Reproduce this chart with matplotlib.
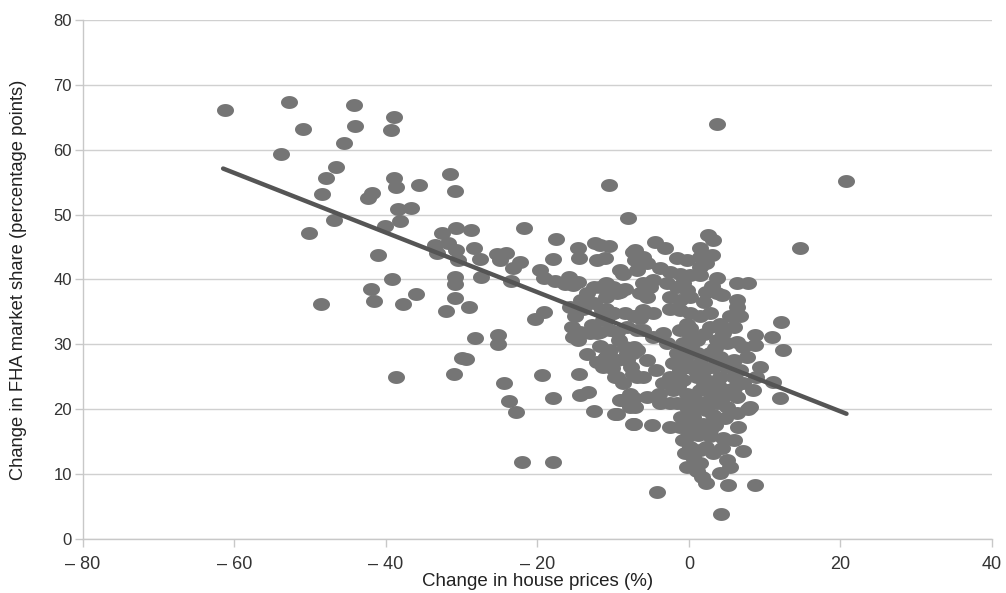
"""FHA market share change vs house price change scatter"""

import numpy as np
import matplotlib
matplotlib.use('Agg')
import matplotlib.pyplot as plt
from matplotlib.path import Path
from matplotlib.markers import MarkerStyle

# change in house prices (%) -- outlying western / high decline areas
house_left = [
    -61.3, -52.8, -51.0, -53.8, -44.2, -44.1, -45.5, -39.0, -39.4, -46.6,
    -47.9, -48.4, -39.0, -38.7, -35.7, -31.6, -30.9, -41.8, -42.4, -38.4,
    -36.7, -38.2, -40.1, -46.9, -50.2, -32.6, -30.7, -33.5, -31.8, -33.3,
    -41.1, -39.2, -42.0, -41.6, -37.8, -36.0, -48.6, -32.1, -30.9, -30.9,
    -30.9, -38.7, -31.0, -30.0]
fha_left = [
    66.1, 67.4, 63.2, 59.4, 66.9, 63.7, 61.0, 65.1, 63.0, 57.4,
    55.7, 53.1, 55.7, 54.2, 54.5, 56.2, 53.6, 53.3, 52.5, 50.8,
    51.0, 49.0, 48.3, 49.2, 47.1, 47.1, 47.9, 45.3, 45.6, 44.1,
    43.8, 40.1, 38.5, 36.7, 36.2, 37.8, 36.2, 35.1, 40.4, 39.3,
    37.1, 24.9, 25.4, 27.9]

house_mid = [
    -10.6, -8.0, -21.8, -28.8, -17.5, -28.4, -27.6, -30.7, -30.5, -25.4,
    -24.1, -24.9, -22.3, -23.2, -17.9, -19.7, -27.5, -23.5, -14.6, -12.4,
    -10.6, -14.5, -12.2, -11.1, -9.1, -7.4, -19.2, -17.7, -15.9, -15.3,
    -16.4, -14.6, -13.5, -12.6, -10.9, -10.0, -8.4, -14.3, -12.6, -14.0,
    -10.9, -9.5, -15.7, -15.0, -11.5, -10.9, -10.0, -10.4, -11.7, -9.5,
    -15.5, -15.3, -14.6, -14.4, -12.8, -12.2, -13.1, -29.1, -20.3, -19.2,
    -28.3, -25.2, -25.2, -29.4, -24.4, -23.7, -22.8, -19.4, -18.0, -14.5,
    -14.4, -13.3, -12.5, -12.2, -10.9, -11.3, -9.5, -8.9, -7.8, -9.5,
    -7.4, -7.1, -8.4, -7.4, -7.6, -8.2, -6.9, -6.9, -6.9, -22.0,
    -18.0, -9.2, -11.8, -8.5, -13.5, -10.2]
fha_mid = [
    54.5, 49.4, 48.0, 47.6, 46.3, 44.9, 43.2, 44.5, 43.0, 44.0,
    44.1, 43.0, 42.7, 41.7, 43.1, 41.4, 40.4, 39.8, 44.8, 45.6,
    45.1, 43.3, 43.0, 43.3, 41.4, 44.3, 40.2, 39.8, 40.4, 39.1,
    39.3, 39.6, 37.9, 38.9, 39.4, 38.9, 38.6, 36.8, 36.3, 35.5,
    37.3, 37.9, 35.8, 34.3, 35.3, 33.7, 34.8, 32.2, 31.9, 31.9,
    32.7, 31.2, 30.7, 31.9, 33.0, 31.7, 31.7, 35.8, 33.9, 35.0,
    31.0, 31.4, 30.0, 27.7, 24.1, 21.2, 19.6, 25.3, 21.7, 25.5,
    22.2, 22.7, 19.8, 27.3, 28.1, 26.5, 25.0, 21.4, 22.4, 19.3,
    17.8, 20.4, 29.6, 28.6, 26.5, 27.6, 25.0, 34.3, 32.2, 11.8,
    11.9, 30.7, 29.8, 34.8, 28.5, 26.4]

house_upper = [
    14.7, 2.5, 3.2, 1.5, 3.0, 1.5, -4.5, -3.2, -7.1, -6.0,
    -5.6, -11.7, -1.6, -0.3, 1.5, 2.3, -3.8, -2.5, -1.2, 0.1,
    1.5, 3.7, 6.3, 7.8, -8.7, -7.1, -6.9, -6.0, -5.1, -4.7,
    -2.9, -1.6, -0.3, 0.1, 2.3, 3.7, 4.3, 6.3, -11.7, -10.4,
    -9.1, -6.5, -5.6, -2.5, -1.2, -6.0, -4.7, -6.5, -2.5, -1.2,
    0.1, 1.5, -0.3, 2.8, 4.1, 5.4, 5.9, 2.8, 6.3, 6.7,
    12.2, 8.7, 10.9, 8.7, 12.4, -10.9, -10.0, -11.3, -7.3, -8.2,
    -6.0, -4.7, -3.4, -1.2, 0.1, 1.0, -0.8, 3.7, 5.0, 6.3,
    7.2, -2.9, -1.6, -7.3, 20.7, 3.7, 0.2, 2.0, 4.5, 2.0,
    3.0, -0.8]
fha_upper = [
    44.9, 46.8, 46.1, 44.8, 43.8, 43.5, 45.8, 44.9, 44.5, 43.5,
    42.5, 45.3, 43.3, 43.0, 42.0, 42.5, 41.7, 41.2, 40.9, 40.7,
    40.7, 40.2, 39.4, 39.4, 40.9, 43.0, 41.4, 39.4, 38.9, 39.9,
    39.4, 38.9, 38.4, 37.3, 38.1, 37.9, 37.6, 36.8, 38.9, 38.6,
    38.1, 37.9, 37.3, 37.3, 36.8, 35.3, 34.8, 34.0, 35.5, 35.3,
    34.8, 34.3, 33.2, 34.8, 33.2, 34.3, 32.7, 32.7, 35.8, 34.3,
    33.5, 31.4, 31.2, 29.9, 29.1, 35.5, 34.8, 33.7, 34.3, 32.7,
    32.2, 31.2, 31.7, 32.2, 31.4, 30.7, 30.2, 30.7, 30.2, 30.4,
    29.6, 30.2, 28.6, 29.6, 55.2, 63.9, 32.5, 31.6, 31.8, 36.5,
    39.0, 39.5]

house_low = [
    12.0, 11.1, 7.6, 9.4, 8.9, 5.9, 6.7, 7.2, 8.5, 7.8,
    6.3, 6.5, 7.2, 8.7, 5.2, 4.1, 5.4, 5.0, 1.7, 2.3,
    -0.2, 4.2, -4.2, 4.5, 5.9, 2.8, 2.3, 3.2, 1.5, 0.6,
    1.5, 0.1, -0.1, 0.1, 0.6, 1.9, 2.8, 3.2, -0.3, 1.0,
    2.3, -0.8, 1.0, 2.8, 4.1, -2.1, -0.3, 1.5, 3.2, 5.0,
    -2.5, -0.8, 1.0, 2.3, 4.1, 5.9, -2.1, -0.3, 1.5, 3.2,
    5.0, 6.3, -1.6, 0.1, 1.5, 3.7, 5.0, -10.9, -9.5, -10.4,
    -8.2, -6.9, -5.6, -7.4, -6.0, -4.3, -3.4, -9.8, -8.7, -9.1,
    -7.3, -7.8, -5.6, -4.0, -9.8, -7.3, -4.9, -2.5, -3.8, -2.5,
    -1.2, -0.8, -0.5, 8.1, 0.8, 2.0, 3.8, 0.5, 2.5, 4.4,
    -1.0, 1.2, 3.5, -1.4, -1.2, 0.3, 3.5, 4.8, 4.3, 1.0,
    -0.5, 6.0, 2.0]
fha_low = [
    21.7, 24.2, 28.1, 26.5, 25.0, 27.6, 26.0, 24.0, 23.0, 20.1,
    19.4, 17.3, 13.5, 8.3, 8.3, 10.1, 11.1, 12.2, 9.6, 8.6,
    11.1, 3.9, 7.3, 15.5, 15.3, 15.8, 14.2, 13.2, 13.7, 12.7,
    11.7, 14.2, 15.8, 17.3, 18.8, 17.8, 16.8, 19.1, 20.4, 20.4,
    19.9, 29.1, 28.6, 28.6, 28.1, 27.1, 26.5, 27.1, 26.5, 26.5,
    25.0, 24.5, 25.0, 24.5, 25.0, 25.0, 23.0, 22.4, 23.0, 22.4,
    23.0, 21.9, 20.9, 21.4, 20.9, 20.9, 20.4, 28.1, 27.6, 29.1,
    28.6, 29.1, 27.6, 25.5, 25.0, 26.0, 24.0, 25.0, 24.0, 21.4,
    21.7, 20.4, 21.9, 22.4, 19.3, 17.8, 17.6, 17.3, 20.9, 20.9,
    17.3, 15.3, 13.2, 20.4, 26.0, 23.7, 23.7, 22.0, 21.2, 21.8,
    18.8, 16.0, 17.5, 23.6, 26.0, 29.7, 29.5, 18.6, 14.0, 10.5,
    27.8, 23.3, 26.0]

# fitted regression line end points
fit_x = [-61.5, 20.8]
fit_y = [57.1, 19.3]

x_ticks = [-80, -60, -40, -20, 0, 20, 40]
x_tick_labels = ['\u2013 80', '\u2013 60', '\u2013 40', '\u2013 20', '0', '20', '40']
y_ticks = [0, 10, 20, 30, 40, 50, 60, 70, 80]


def main():
    """Main"""
    house = np.array(house_left + house_mid + house_upper + house_low)
    fha = np.array(fha_left + fha_mid + fha_upper + fha_low)

    theta = np.linspace(0, 2 * np.pi, 48)
    ellipse = Path(np.column_stack([np.cos(theta), 0.76 * np.sin(theta)]),
                   closed=True)

    fig = plt.figure(figsize=(10.06, 5.93), dpi=100)
    ax = fig.add_axes([0.0825, 0.0911, 0.9035, 0.8752])

    ax.scatter(house, fha, s=150, marker=MarkerStyle(ellipse),
               color='#757575', linewidths=0, zorder=2)
    ax.plot(fit_x, fit_y, color='#555555', lw=3.2,
            solid_capstyle='round', zorder=3)

    ax.set_xlim(-80, 40)
    ax.set_ylim(0, 80)
    ax.set_yticks(y_ticks)
    ax.set_xticks(x_ticks)
    ax.set_xticklabels(x_tick_labels,
                       family=['Liberation Sans Narrow', 'Liberation Sans'],
                       fontsize=13, color='#333333')
    for lab in ax.get_yticklabels():
        lab.set_family(['Liberation Sans', 'DejaVu Sans'])
        lab.set_fontsize(12)
        lab.set_color('#333333')

    ax.grid(axis='y', color='#d0d0d0', lw=1.0)
    ax.set_axisbelow(True)
    for side in ['top', 'right']:
        ax.spines[side].set_visible(False)
    for side in ['left', 'bottom']:
        ax.spines[side].set_color('#c8c8c8')
        ax.spines[side].set_linewidth(1.0)
    ax.tick_params(axis='both', direction='out', length=6, width=1.0,
                   color='#c8c8c8', pad=2)
    ax.tick_params(axis='x', pad=6)

    ax.set_xlabel('Change in house prices (%)', fontsize=13.5,
                  family=['Liberation Sans', 'DejaVu Sans'],
                  color='#222222')
    ax.xaxis.set_label_coords(0.5, -0.066)
    ax.set_ylabel('Change in FHA market share (percentage points)',
                  fontsize=13.2, family=['Liberation Sans', 'DejaVu Sans'],
                  color='#222222')
    ax.yaxis.set_label_coords(-0.062, 0.5)

    fig.savefig('out.png', dpi=100, facecolor='white')


if __name__ == '__main__':
    main()
